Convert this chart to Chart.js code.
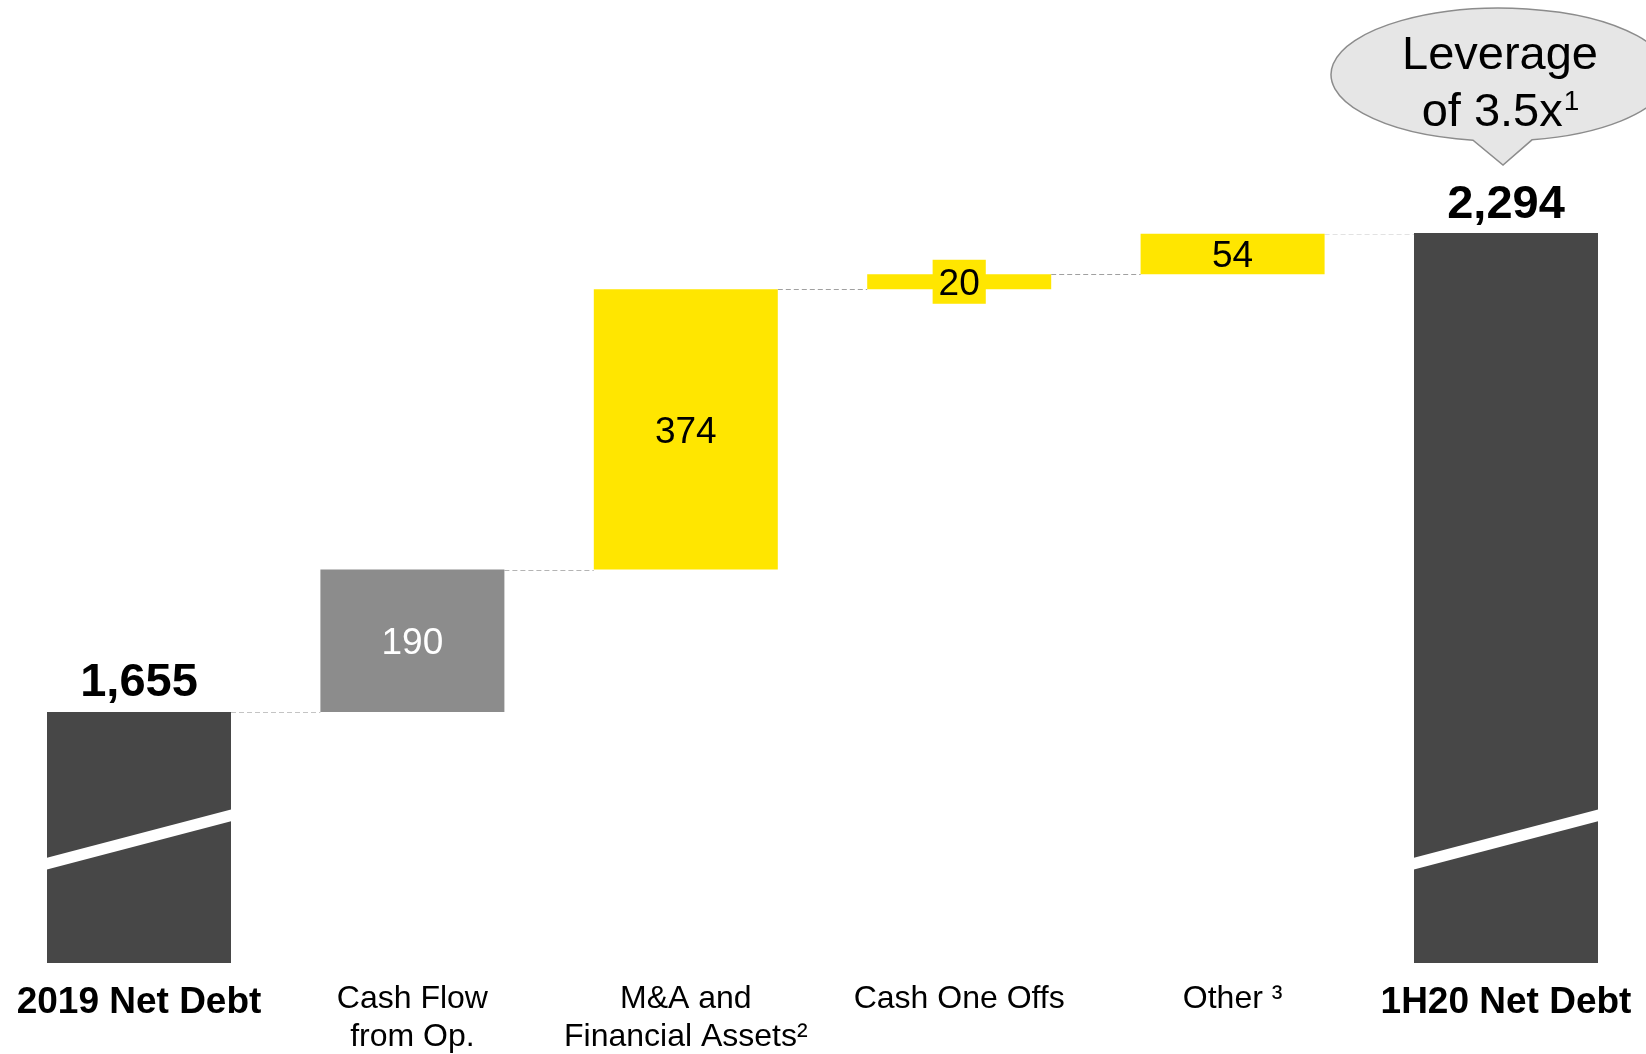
<!DOCTYPE html>
<html>
<head>
<meta charset="utf-8">
<script src="https://cdn.jsdelivr.net/npm/chart.js@4.4.1/dist/chart.umd.min.js"></script>
<style>
  html, body { margin: 0; padding: 0; background: #ffffff; }
  #wrap { width: 1646px; height: 1054px; position: relative; }
</style>
</head>
<body>
<div id="wrap"><canvas id="c" width="1646" height="1054"></canvas></div>
<script>
// ---------- DATA ----------
const categories = [
  "2019 Net Debt",
  ["Cash Flow", "from Op."],
  ["M&A and", "Financial Assets²"],
  "Cash One Offs",
  "Other ³",
  "1H20 Net Debt"
];
const startNetDebt = 1655;            // 2019 Net Debt
const changes = [190, 374, 20, 54];   // Cash Flow from Op., M&A, Cash One Offs, Other
const endNetDebt = 2294;              // 1H20 Net Debt
const valueLabels = ["1,655", "190", "374", "20", "54", "2,294"];
const axisBreakBase = 1320;           // value at which the (broken) total bars start
const breakLeftValue = 1460;          // axis-break band, value at bar's left edge
const breakRightValue = 1525;         // axis-break band, value at bar's right edge
const breakGapValue = 15.5;           // thickness of the break band in value units
const calloutLines = ["Leverage", "of 3.5x"];
const calloutSup = "1";

// ---------- STYLE ----------
const FONT = "'Liberation Sans', Arial, Helvetica, sans-serif";
const barColors = ["#474747", "#8c8c8c", "#ffe600", "#ffe600", "#ffe600", "#474747"];
const connectorColors = ["#c4c4c4", "#b4b4b4", "#a0a0a0", "#a0a0a0", "#e2e2e2"];

// Build floating bars from the data
const floating = [[axisBreakBase, startNetDebt]];
let running = startNetDebt;
changes.forEach(c => { floating.push([running, running + c]); running += c; });
floating.push([axisBreakBase, endNetDebt]);

const waterfallPlugin = {
  id: 'waterfallDecor',
  beforeDatasetsDraw(chart) {
    const ctx = chart.ctx;
    const meta = chart.getDatasetMeta(0);
    const y = chart.scales.y;
    ctx.save();
    ctx.lineWidth = 1;
    ctx.setLineDash([5, 3]);
    for (let i = 0; i < meta.data.length - 1; i++) {
      const a = meta.data[i], b = meta.data[i + 1];
      const level = Math.round(y.getPixelForValue(floating[i][1])) + 0.5;
      ctx.strokeStyle = connectorColors[i];
      ctx.beginPath();
      ctx.moveTo(a.x + a.width / 2, level);
      ctx.lineTo(b.x - b.width / 2, level);
      ctx.stroke();
    }
    ctx.restore();
  },
  afterDatasetsDraw(chart) {
    const ctx = chart.ctx;
    const meta = chart.getDatasetMeta(0);
    const y = chart.scales.y;
    const last = meta.data.length - 1;
    ctx.save();
    meta.data.forEach((el, i) => {
      const top = Math.min(el.y, el.base);
      const bottom = Math.max(el.y, el.base);
      const left = el.x - el.width / 2, right = el.x + el.width / 2;
      if (i === 0 || i === last) {
        // axis-break band
        const yL = y.getPixelForValue(breakLeftValue);
        const yR = y.getPixelForValue(breakRightValue);
        const t = y.getPixelForValue(breakLeftValue) - y.getPixelForValue(breakLeftValue + breakGapValue);
        ctx.fillStyle = '#ffffff';
        ctx.beginPath();
        ctx.moveTo(left - 1, yL);
        ctx.lineTo(right + 1, yR);
        ctx.lineTo(right + 1, yR + t);
        ctx.lineTo(left - 1, yL + t);
        ctx.closePath();
        ctx.fill();
        // bold total label
        ctx.fillStyle = '#000000';
        ctx.font = `bold 47px ${FONT}`;
        ctx.textAlign = 'center';
        ctx.textBaseline = 'alphabetic';
        ctx.fillText(valueLabels[i], el.x, top - 15.5);
      } else {
        const cy = (top + bottom) / 2;
        ctx.font = `37px ${FONT}`;
        ctx.textAlign = 'center';
        ctx.textBaseline = 'middle';
        if (bottom - top < 30) {
          const w = ctx.measureText(valueLabels[i]).width + 12;
          ctx.fillStyle = barColors[i];
          ctx.fillRect(el.x - w / 2, cy - 22, w, 44);
        }
        ctx.fillStyle = i === 1 ? '#ffffff' : '#000000';
        ctx.fillText(valueLabels[i], el.x, cy + 3);
      }
    });

    // Callout above the last bar
    const el = meta.data[last];
    const top = Math.min(el.y, el.base);
    const tipX = el.x - 3, tipY = top - 68;
    const cx = el.x - 6, cy = tipY - 90.5, rx = 169, ry = 66.5;
    const xl = -27, xr = 32;
    const tL = Math.acos(xl / rx), tR = Math.acos(xr / rx);
    ctx.beginPath();
    ctx.ellipse(cx, cy, rx, ry, 0, tL, tR, false);
    ctx.lineTo(tipX, tipY);
    ctx.closePath();
    ctx.fillStyle = '#e6e6e6';
    ctx.fill();
    ctx.strokeStyle = '#8c8c8c';
    ctx.lineWidth = 1.5;
    ctx.stroke();

    ctx.fillStyle = '#000000';
    ctx.textBaseline = 'alphabetic';
    ctx.textAlign = 'center';
    ctx.font = `47px ${FONT}`;
    ctx.fillText(calloutLines[0], cx, cy - 6);
    const w1 = ctx.measureText(calloutLines[1]).width;
    ctx.font = `28px ${FONT}`;
    const w2 = ctx.measureText(calloutSup).width;
    const startX = cx - (w1 + w2) / 2;
    ctx.textAlign = 'left';
    ctx.font = `47px ${FONT}`;
    ctx.fillText(calloutLines[1], startX, cy + 51);
    ctx.font = `28px ${FONT}`;
    ctx.fillText(calloutSup, startX + w1 + 1, cy + 35);
    ctx.restore();
  }
};

new Chart(document.getElementById('c'), {
  type: 'bar',
  data: {
    labels: categories,
    datasets: [{
      data: floating,
      backgroundColor: barColors,
      borderWidth: 0,
      borderSkipped: false,
      barPercentage: 0.673,
      categoryPercentage: 1
    }]
  },
  options: {
    responsive: false,
    animation: false,
    devicePixelRatio: 1,
    layout: { padding: { left: 2.3, right: 3.3, top: 0, bottom: -2 } },
    plugins: { legend: { display: false }, tooltip: { enabled: false } },
    scales: {
      x: {
        grid: { display: false, drawTicks: false },
        border: { display: false },
        ticks: {
          padding: 0,
          color: '#000000',
          autoSkip: false,
          maxRotation: 0,
          minRotation: 0,
          font: (c) => {
            const bold = c.index === 0 || c.index === categories.length - 1;
            return { family: FONT, size: bold ? 37 : 32, weight: bold ? 'bold' : 'normal', lineHeight: 1.18 };
          }
        }
      },
      y: { display: false, min: 1296.6, max: 2605 }
    }
  },
  plugins: [waterfallPlugin]
});
</script>
</body>
</html>
